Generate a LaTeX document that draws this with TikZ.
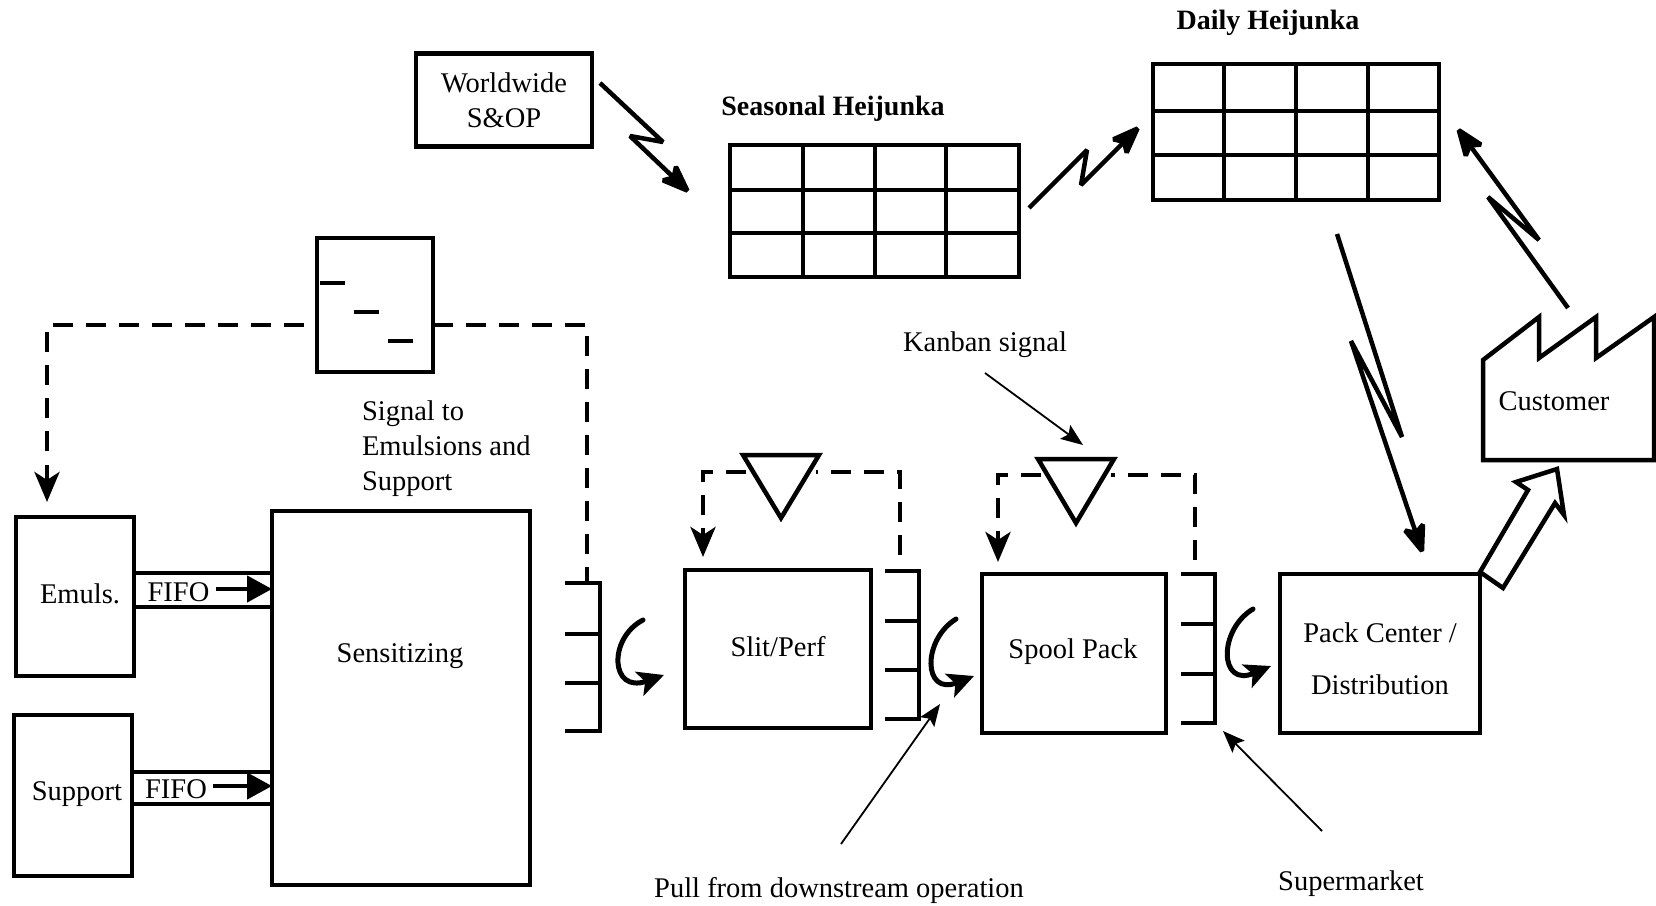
\documentclass[tikz,border=0pt]{standalone}
\usepackage{fontspec}
\setmainfont{Liberation Serif}
\usetikzlibrary{arrows.meta}
\tikzset{
  box/.style={draw=black,line width=4.5pt,fill=white,inner sep=0pt,outer sep=0pt,align=center,font=\fontsize{28.5}{35}\selectfont},
  lbl/.style={inner sep=0pt,outer sep=0pt,align=center,font=\fontsize{28.5}{35}\selectfont},
  blbl/.style={inner sep=0pt,outer sep=0pt,font=\bfseries\fontsize{28}{32}\selectfont},
  heavy/.style={line width=4.5pt,line join=miter,draw=black},
  gridline/.style={line width=4.5pt,draw=black},
  dashline/.style={line width=4.5pt,draw=black,dash pattern=on 20pt off 13pt},
  zigzag/.style={line width=4.5pt,line join=miter,miter limit=2.5,draw=black,-{Stealth[length=36pt,width=27pt,inset=8pt]}},
  thinarrow/.style={line width=1.8pt,draw=black,-{Stealth[length=22pt,width=17pt,inset=4pt]}},
  curl/.style={line width=5pt,draw=black,line cap=round,-{Stealth[length=26pt,width=25pt,inset=6pt]}},
  shortarrow/.style={line width=4.5pt,draw=black,-{Stealth[length=25pt,width=26pt,inset=0pt]}},
  dropend/.style={line width=4.5pt,draw=black,-{Stealth[length=30pt,width=25pt,inset=8pt]}},
  ticks/.style={line width=4.5pt,draw=black,line join=miter}
}
\begin{document}
\begin{tikzpicture}[x=1pt,y=-1pt]
\useasboundingbox (0,0) rectangle (1656,905);
% top boxes and grids
\node[box,minimum width=176pt,minimum height=93pt] (sop) at (504,100) {Worldwide\\S\&OP};
\node[blbl] (seaslbl) at (833,109) {Seasonal Heijunka};
\node[box,minimum width=289pt,minimum height=132pt] (seas) at (874.5,211) {};
\foreach \gx in {803,875,946} \draw[gridline] (\gx,145) -- (\gx,277);
\foreach \gy in {190,233} \draw[gridline] (730,\gy) -- (1019,\gy);
\node[blbl] (dailylbl) at (1268,23) {Daily Heijunka};
\node[box,minimum width=286pt,minimum height=136pt] (daily) at (1296,132) {};
\foreach \gx in {1224,1296,1368} \draw[gridline] (\gx,64) -- (\gx,200);
\foreach \gy in {111,155} \draw[gridline] (1153,\gy) -- (1439,\gy);
% zigzag connectors
\coordinate (z1a) at (600,83); \coordinate (z1b) at (663,142); \coordinate (z1c) at (630,136); \coordinate (z1d) at (692,195);
\draw[zigzag] (z1a) -- (z1b) -- (z1c) -- (z1d);
\coordinate (z2a) at (1029,208); \coordinate (z2b) at (1087,150); \coordinate (z2c) at (1081,185); \coordinate (z2d) at (1142,124);
\draw[zigzag] (z2a) -- (z2b) -- (z2c) -- (z2d);
\coordinate (z3a) at (1568,308); \coordinate (z3b) at (1488,197); \coordinate (z3c) at (1539,240); \coordinate (z3d) at (1455,125);
\draw[zigzag] (z3a) -- (z3b) -- (z3c) -- (z3d);
\coordinate (z4a) at (1337,234); \coordinate (z4b) at (1402,437); \coordinate (z4c) at (1351,341); \coordinate (z4d) at (1424,557);
\draw[zigzag] (z4a) -- (z4b) -- (z4c) -- (z4d);
% customer
\draw[heavy] (1483,360) -- (1539,317) -- (1539,358) -- (1596,317) -- (1596,358) -- (1654,317) -- (1654,460) -- (1483,460) -- cycle;
\node[lbl] (cust) at (1554,401) {Customer};
% kanban post
\node[box,minimum width=116pt,minimum height=134pt] (post) at (375,305) {};
\draw[gridline] (320,283) -- (345,283);
\draw[gridline] (354,312) -- (379,312);
\draw[gridline] (388,341) -- (413,341);
\coordinate (pc1) at (47,325); \coordinate (pe1) at (47,502);
\coordinate (pc2) at (587,325); \coordinate (pe2) at (587,583);
\draw[dashline,dash phase=20pt] (post.west |- pc1) -- (pc1) -- (47,451);
\draw[dropend] (47,465) -- (pe1);
\draw[dashline] (post.east |- pc2) -- (pc2) -- (pe2);
\node[lbl,align=left,anchor=north west] (sig) at (362,400.5) {Signal to\\Emulsions and\\Support};
% left boxes
\node[box,minimum width=118pt,minimum height=159pt] (emuls) at (75,596.5) {};
\node[lbl] at (80,594) {Emuls.};
\node[box,minimum width=118pt,minimum height=161pt] (supp) at (73,795.5) {};
\node[lbl] at (77,794) {Support};
\node[box,minimum width=258pt,minimum height=374pt] (sens) at (401,698) {};
\node[lbl] at (400,656) {Sensitizing};
% FIFO lanes
\draw[gridline] (emuls.east |- 0,573) -- (sens.west |- 0,573);
\draw[gridline] (emuls.east |- 0,607) -- (sens.west |- 0,607);
\node[lbl] (f1) at (178.5,592) {FIFO};
\coordinate (f1a) at (216,589);
\draw[shortarrow] (f1a) -- (sens.west |- f1a);
\draw[gridline] (supp.east |- 0,772) -- (sens.west |- 0,772);
\draw[gridline] (supp.east |- 0,804) -- (sens.west |- 0,804);
\node[lbl] (f2) at (176,789) {FIFO};
\coordinate (f2a) at (213,786);
\draw[shortarrow] (f2a) -- (sens.west |- f2a);
% supermarket 1
\draw[ticks] (565,583) -- (600,583) -- (600,731) -- (565,731);
\draw[ticks] (565,634) -- (600,634);
\draw[ticks] (565,683) -- (600,683);
\coordinate (c1a) at (643,620); \coordinate (c1b) at (664,675);
\draw[curl] (c1a) .. controls (608,638) and (610,694) .. (c1b);
% process boxes
\node[box,minimum width=186pt,minimum height=158pt] (slit) at (778,649) {};
\node[lbl] at (778,647) {Slit/Perf};
\node[box,minimum width=184pt,minimum height=159pt] (spool) at (1074,653.5) {};
\node[lbl] at (1073,652) {Spool Pack};
\node[box,minimum width=200pt,minimum height=159pt] (pack) at (1380,653.5) {};
\node[lbl] at (1380,659) {Pack Center /\\[17pt]Distribution};
% triangle 1
\coordinate (t1a) at (743,455); \coordinate (t1b) at (819,455); \coordinate (t1c) at (781,518);
\coordinate (t1l) at (703,472); \coordinate (t1r) at (900,472);
\draw[dashline] (746,472) -- (t1l) -- (703,528);
\draw[dropend] (703,528) -- (703,557);
\draw[dashline,dash phase=18pt] (816,472) -- (t1r) -- (900,555);
\draw[heavy] (t1a) -- (t1b) -- (t1c) -- cycle;
% supermarket 2
\draw[ticks] (885,571) -- (919,571) -- (919,719) -- (885,719);
\draw[ticks] (885,621) -- (919,621);
\draw[ticks] (885,670) -- (919,670);
\coordinate (c2a) at (956,619); \coordinate (c2b) at (974,676);
\draw[curl] (c2a) .. controls (922,640) and (923,696) .. (c2b);
% triangle 2
\coordinate (t2a) at (1038,459); \coordinate (t2b) at (1114,459); \coordinate (t2c) at (1076,523);
\coordinate (t2l) at (998,475); \coordinate (t2r) at (1195,475);
\draw[dashline] (1041,475) -- (t2l) -- (998,533);
\draw[dropend] (998,533) -- (998,562);
\draw[dashline,dash phase=16pt] (1111,475) -- (t2r) -- (1195,560);
\draw[heavy] (t2a) -- (t2b) -- (t2c) -- cycle;
% supermarket 3
\draw[ticks] (1181,574) -- (1215,574) -- (1215,723) -- (1181,723);
\draw[ticks] (1181,624) -- (1215,624);
\draw[ticks] (1181,674) -- (1215,674);
\coordinate (c3a) at (1253,609); \coordinate (c3b) at (1271,666);
\draw[curl] (c3a) .. controls (1218,630) and (1219,688) .. (c3b);
% block arrow
\draw[heavy,fill=white] (1480,572) -- (1528,490) -- (1516,482) -- (1557,469) -- (1564,515) -- (1555,503) -- (1503,588) -- cycle;
% annotations
\node[lbl] (kan) at (985,345) {Kanban signal};
\coordinate (kana) at (985,373); \coordinate (kanb) at (1083,445);
\draw[thinarrow] (kana) -- (kanb);
\node[lbl] (pull) at (839,890) {Pull from downstream operation};
\coordinate (pulla) at (841,844); \coordinate (pullb) at (940,704);
\draw[thinarrow] (pulla) -- (pullb);
\node[lbl] (smk) at (1351,884) {Supermarket};
\coordinate (smka) at (1322,831); \coordinate (smkb) at (1223,731);
\draw[thinarrow] (smka) -- (smkb);
\end{tikzpicture}
\end{document}
